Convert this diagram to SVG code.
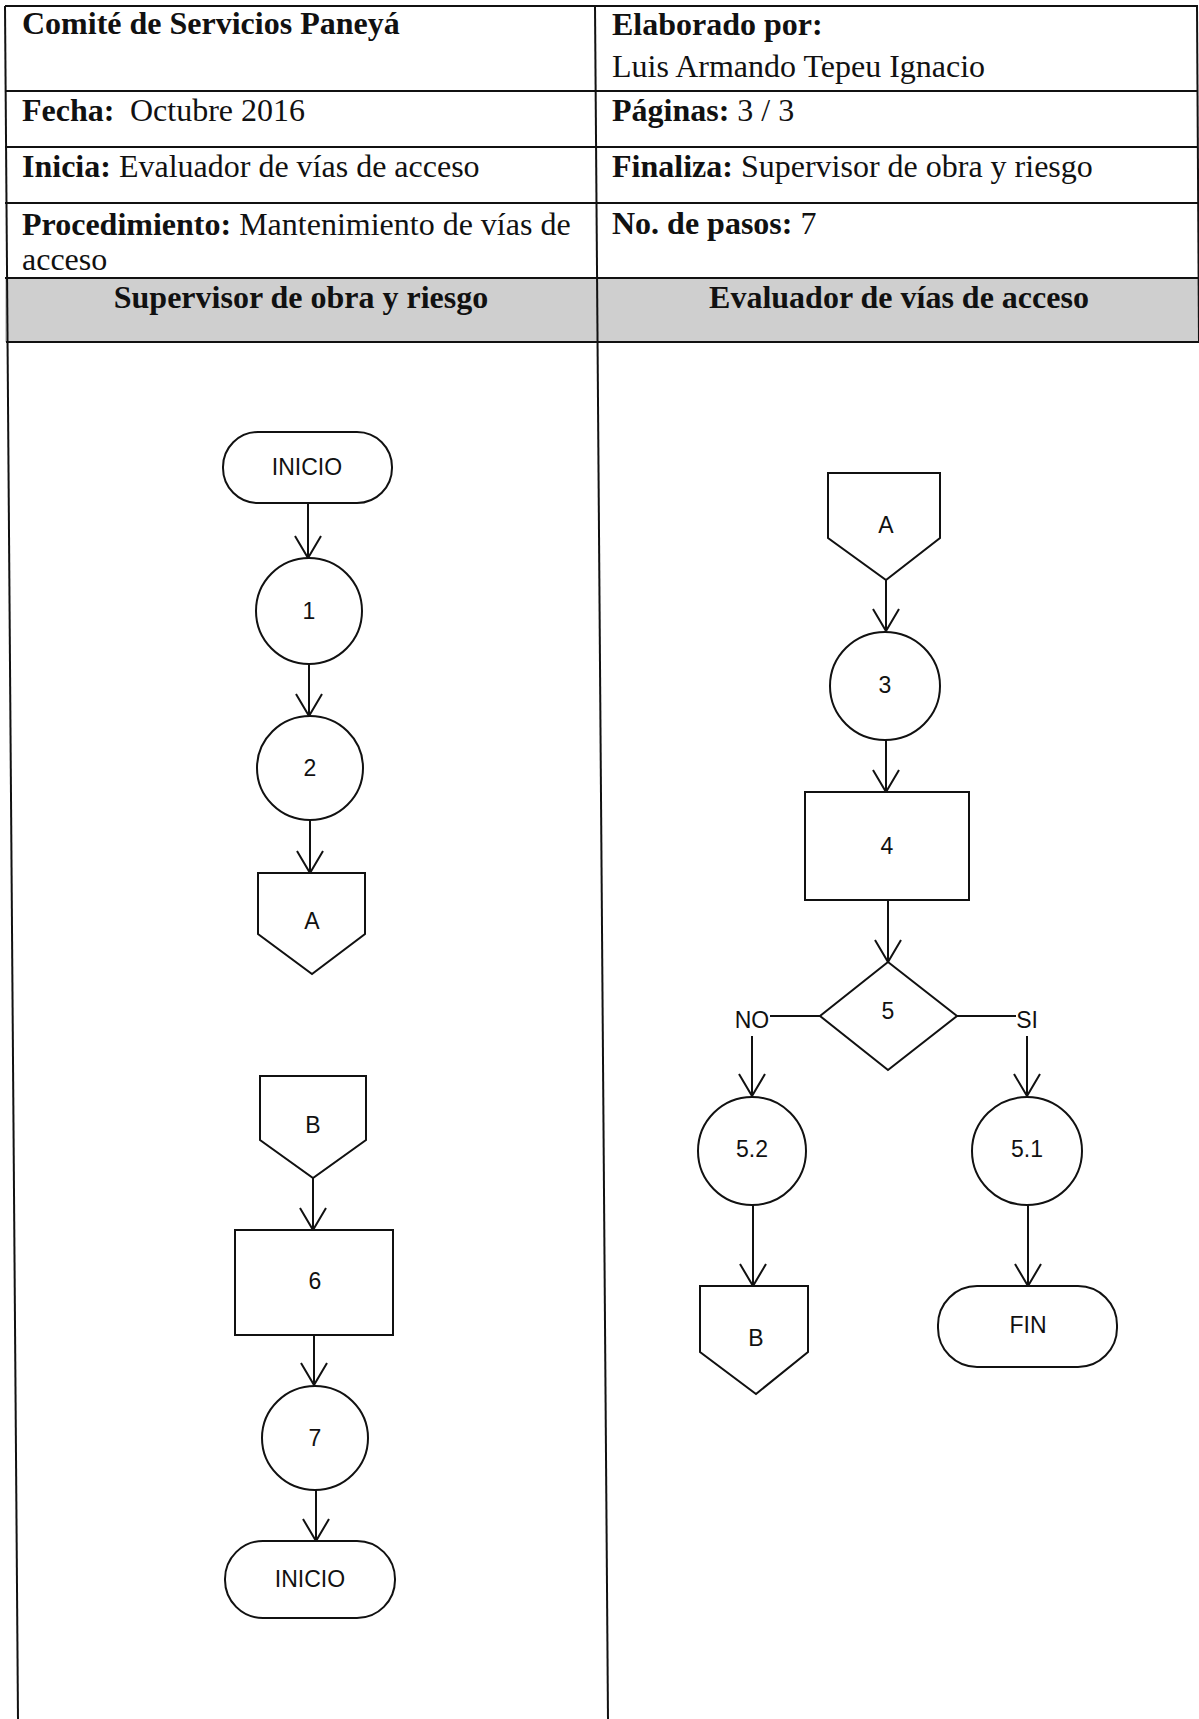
<svg xmlns="http://www.w3.org/2000/svg" width="1199" height="1719" viewBox="0 0 1199 1719">
<style>
.tb{font-family:"Liberation Serif","Times New Roman",serif;font-size:32px;fill:#111}
.b{font-weight:bold}
.hd{font-family:"Liberation Serif","Times New Roman",serif;font-size:32px;font-weight:bold;fill:#111;text-anchor:middle}
.grid{stroke:#111;stroke-width:2;fill:none}
.sh{fill:#fff;stroke:#111;stroke-width:2}
.lb{font-family:"Liberation Sans",Arial,sans-serif;font-size:23px;fill:#111;text-anchor:middle}
.cn{stroke:#111;stroke-width:2;fill:none;marker-end:url(#ah)}
.ln{stroke:#111;stroke-width:2;fill:none}
</style>
<defs>
<marker id="ah" markerUnits="userSpaceOnUse" markerWidth="26" markerHeight="30" viewBox="0 0 24 30" refX="23" refY="15" orient="auto">
<path d="M1,2 L23,15 L1,28" fill="none" stroke="#111" stroke-width="2"/>
</marker>
</defs>
<rect width="1199" height="1719" fill="#fff"/>
<g id="table">
<rect x="5" y="278" width="1194" height="64" fill="#cfcfcf"/>
<line class="grid" x1="5" y1="6" x2="1198" y2="6"/>
<line class="grid" x1="5" y1="91" x2="1198" y2="91"/>
<line class="grid" x1="5" y1="147" x2="1198" y2="147"/>
<line class="grid" x1="5" y1="203" x2="1199" y2="203"/>
<line class="grid" x1="5" y1="278" x2="1199" y2="278"/>
<line class="grid" x1="6" y1="342" x2="1199" y2="342"/>
<line class="grid" x1="5" y1="6" x2="18" y2="1719"/>
<line class="grid" x1="595" y1="6" x2="608" y2="1719"/>
<line class="grid" x1="1197" y1="6" x2="1199" y2="342"/>
<text class="tb b" x="22" y="34">Comité de Servicios Paneyá</text>
<text class="tb" x="612" y="35"><tspan class="b">Elaborado por:</tspan></text>
<text class="tb" x="612" y="77">Luis Armando Tepeu Ignacio</text>
<text class="tb" x="22" y="121"><tspan font-weight="bold">Fecha:</tspan><tspan x="130">Octubre 2016</tspan></text>
<text class="tb" x="612" y="121"><tspan font-weight="bold">Páginas:</tspan> 3 / 3</text>
<text class="tb" x="22" y="177"><tspan font-weight="bold">Inicia:</tspan> Evaluador de vías de acceso</text>
<text class="tb" x="612" y="177"><tspan font-weight="bold">Finaliza:</tspan> Supervisor de obra y riesgo</text>
<text class="tb" x="22" y="235"><tspan font-weight="bold">Procedimiento:</tspan> Mantenimiento de vías de</text>
<text class="tb" x="22" y="270">acceso</text>
<text class="tb" x="612" y="234"><tspan font-weight="bold">No. de pasos:</tspan> 7</text>
<text class="hd" x="301" y="308">Supervisor de obra y riesgo</text>
<text class="hd" x="899" y="308">Evaluador de vías de acceso</text>
</g>
<g id="connectors">
<line class="cn" x1="308" y1="503" x2="308" y2="558"/>
<line class="cn" x1="309" y1="664" x2="309" y2="716"/>
<line class="cn" x1="310" y1="820" x2="310" y2="873"/>
<line class="cn" x1="313" y1="1178" x2="313" y2="1230"/>
<line class="cn" x1="314" y1="1335" x2="314" y2="1385"/>
<line class="cn" x1="316" y1="1490" x2="316" y2="1541"/>
<line class="cn" x1="886" y1="580" x2="886" y2="631"/>
<line class="cn" x1="886" y1="740" x2="886" y2="792"/>
<line class="cn" x1="888" y1="900" x2="888" y2="962"/>
<line class="ln" x1="770" y1="1016" x2="820" y2="1016"/>
<line class="ln" x1="957" y1="1016" x2="1016" y2="1016"/>
<line class="cn" x1="752" y1="1036" x2="752" y2="1096"/>
<line class="cn" x1="1027" y1="1036" x2="1027" y2="1096"/>
<line class="cn" x1="753" y1="1205" x2="753" y2="1286"/>
<line class="cn" x1="1028" y1="1205" x2="1028" y2="1286"/>
<text class="lb" x="752" y="1028">NO</text>
<text class="lb" x="1027" y="1028">SI</text>
</g>
<g id="inicio1"><rect class="sh" x="223" y="432" width="169" height="71" rx="35" ry="35"/><text class="lb" x="307" y="475">INICIO</text></g>
<g id="paso1"><ellipse class="sh" cx="309" cy="611" rx="53" ry="53"/><text class="lb" x="309" y="619">1</text></g>
<g id="paso2"><ellipse class="sh" cx="310" cy="768" rx="53" ry="52"/><text class="lb" x="310" y="776">2</text></g>
<g id="conA1"><path class="sh" d="M258,873 L365,873 L365,934 L312,974 L258,934 Z"/><text class="lb" x="312" y="929">A</text></g>
<g id="conB1"><path class="sh" d="M260,1076 L366,1076 L366,1140 L313,1178 L260,1140 Z"/><text class="lb" x="313" y="1133">B</text></g>
<g id="paso6"><rect class="sh" x="235" y="1230" width="158" height="105"/><text class="lb" x="315" y="1289">6</text></g>
<g id="paso7"><ellipse class="sh" cx="315" cy="1438" rx="53" ry="52"/><text class="lb" x="315" y="1446">7</text></g>
<g id="inicio2"><rect class="sh" x="225" y="1541" width="170" height="77" rx="38" ry="38"/><text class="lb" x="310" y="1587">INICIO</text></g>
<g id="conA2"><path class="sh" d="M828,473 L940,473 L940,538 L886,580 L828,538 Z"/><text class="lb" x="886" y="533">A</text></g>
<g id="paso3"><ellipse class="sh" cx="885" cy="686" rx="55" ry="54"/><text class="lb" x="885" y="693">3</text></g>
<g id="paso4"><rect class="sh" x="805" y="792" width="164" height="108"/><text class="lb" x="887" y="854">4</text></g>
<g id="paso5"><path class="sh" d="M888,962 L957,1016 L888,1070 L820,1016 Z"/><text class="lb" x="888" y="1019">5</text></g>
<g id="paso52"><ellipse class="sh" cx="752" cy="1151" rx="54" ry="54"/><text class="lb" x="752" y="1157">5.2</text></g>
<g id="paso51"><ellipse class="sh" cx="1027" cy="1151" rx="55" ry="54"/><text class="lb" x="1027" y="1157">5.1</text></g>
<g id="conB2"><path class="sh" d="M700,1286 L808,1286 L808,1352 L756,1394 L700,1352 Z"/><text class="lb" x="756" y="1346">B</text></g>
<g id="fin"><rect class="sh" x="938" y="1286" width="179" height="81" rx="39" ry="39"/><text class="lb" x="1028" y="1333">FIN</text></g>
</svg>
